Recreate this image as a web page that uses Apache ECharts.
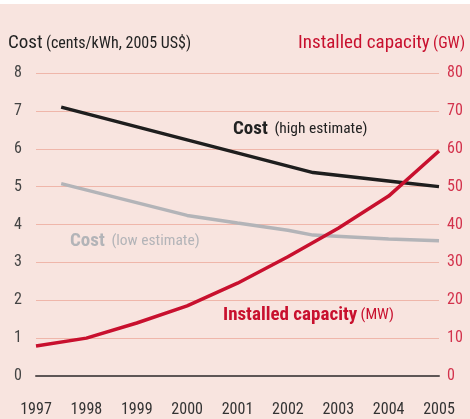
<!DOCTYPE html>
<html>
<head>
<meta charset="utf-8">
<script src="https://cdn.jsdelivr.net/npm/echarts@6/dist/echarts.min.js"></script>
<style>
  html, body { margin: 0; padding: 0; background: #fff; }
  #chart { width: 470px; height: 419px; }
</style>
</head>
<body>
<div id="chart"></div>
<script>
// years on the x axis
var years = [1997, 1998, 1999, 2000, 2001, 2002, 2003, 2004, 2005]
// cost, cents/kWh (2005 US$) - [year, value]
var costHigh = [[1997.5, 7.1], [2002.5, 5.37], [2004.3, 5.1], [2005, 5.0]]
var costLow = [[1997.5, 5.08], [2000, 4.24], [2001, 4.04], [2002, 3.85], [2002.5, 3.72], [2004, 3.62], [2005, 3.57]]
// installed capacity, GW
var capacity = [7.9, 10, 14, 18.5, 24.5, 31.5, 39, 47.5, 59.4]

var font = '"Roboto Condensed", "DejaVu Sans Condensed", Roboto, sans-serif'
var red = '#c8102e'

var chart = echarts.init(document.getElementById('chart'))

var option = {
  backgroundColor: '#f8e4df',
  animation: false,
  textStyle: { fontFamily: font },
  grid: { left: 36, right: 31, top: 73, bottom: 43 },
  xAxis: {
    type: 'value',
    min: 1997,
    max: 2005,
    interval: 1,
    axisLine: { show: true, onZero: false, lineStyle: { color: '#5e5656', width: 2 } },
    axisTick: { show: false },
    splitLine: { show: false },
    axisLabel: {
      margin: 26,
      color: '#333',
      fontSize: 16,
      fontFamily: font,
      formatter: function(v) { return String(v) }
    }
  },
  yAxis: [
    {
      type: 'value',
      min: 0,
      max: 8,
      interval: 1,
      axisLine: { show: false },
      axisTick: { show: false },
      splitLine: { show: true, lineStyle: { color: '#efb6aa', width: 1 } },
      axisLabel: { margin: 14, color: '#444', fontSize: 16, fontFamily: font }
    },
    {
      type: 'value',
      min: 0,
      max: 80,
      interval: 10,
      position: 'right',
      axisLine: { show: false },
      axisTick: { show: false },
      splitLine: { show: false },
      axisLabel: { margin: 8, color: '#d3324c', fontSize: 16, fontFamily: font }
    }
  ],
  series: [
    {
      name: 'Cost (high estimate)',
      type: 'line',
      yAxisIndex: 0,
      data: costHigh,
      symbol: 'none',
      lineStyle: { color: '#1e1e1e', width: 3.5 }
    },
    {
      name: 'Cost (low estimate)',
      type: 'line',
      yAxisIndex: 0,
      data: costLow,
      symbol: 'none',
      lineStyle: { color: '#b3b4b8', width: 3.5 }
    },
    {
      name: 'Installed capacity',
      type: 'line',
      yAxisIndex: 1,
      data: years.map(function(y, i) { return [y, capacity[i]] }),
      symbol: 'none',
      lineStyle: { color: red, width: 3.5 }
    }
  ],
  graphic: [
    { type: 'rect', left: 0, top: 0, shape: { width: 470, height: 4 }, style: { fill: '#fff' } },
    {
      type: 'text', left: 8, top: 34,
      style: {
        text: '{a|Cost} {b|(cents/kWh, 2005 US$)}',
        rich: {
          a: { fontSize: 19, fontFamily: font, fill: '#222' },
          b: { fontSize: 16, fontFamily: font, fill: '#222' }
        }
      }
    },
    {
      type: 'text', right: 5, top: 34,
      style: {
        text: '{a|Installed capacity} {b|(GW)}',
        rich: {
          a: { fontSize: 19, fontFamily: font, fill: red },
          b: { fontSize: 16, fontFamily: font, fill: red }
        }
      }
    },
    {
      type: 'text', left: 233, top: 120,
      style: {
        text: '{a|Cost}  {b|(high estimate)}',
        rich: {
          a: { fontSize: 19, fontWeight: 'bold', fontFamily: font, fill: '#222' },
          b: { fontSize: 15.5, fontFamily: font, fill: '#222' }
        }
      }
    },
    {
      type: 'text', left: 70, top: 232,
      style: {
        text: '{a|Cost}  {b|(low estimate)}',
        rich: {
          a: { fontSize: 19, fontWeight: 'bold', fontFamily: font, fill: '#b3b4b8' },
          b: { fontSize: 15.5, fontFamily: font, fill: '#b3b4b8' }
        }
      }
    },
    {
      type: 'text', left: 223, top: 306,
      style: {
        text: '{a|Installed capacity} {b|(MW)}',
        rich: {
          a: { fontSize: 19, fontWeight: 'bold', fontFamily: font, fill: red },
          b: { fontSize: 15.5, fontFamily: font, fill: red }
        }
      }
    }
  ]
}

chart.setOption(option)
</script>
</body>
</html>
